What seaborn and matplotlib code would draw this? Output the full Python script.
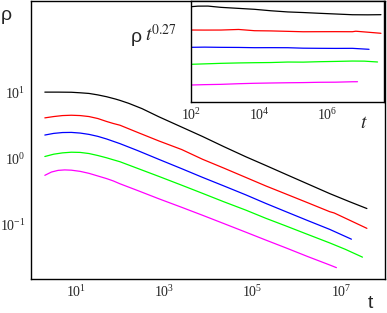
import numpy as np
import pandas as pd
import matplotlib
matplotlib.use("Agg")
import matplotlib.pyplot as plt
import seaborn as sns

# ---- data (log10 t, log10 rho) ----
logt_black = [0.3, 0.6, 0.9, 1.1, 1.3, 1.5, 1.7, 1.9, 2.0, 2.2, 2.5, 2.88, 3.4, 3.87, 4.35, 4.85, 5.3, 5.77, 6.25, 6.75, 7.2, 7.59]
logr_black = [1.01, 1.01, 1.008, 1.0, 0.99, 0.968, 0.94, 0.905, 0.885, 0.84, 0.76, 0.637, 0.48, 0.338, 0.185, 0.031, -0.10, -0.239, -0.38, -0.527, -0.65, -0.753]

logt_red = [0.3, 0.5, 0.7, 0.9, 1.1, 1.3, 1.5, 1.7, 1.85, 2.0, 2.4, 2.88, 3.4, 3.87, 4.35, 4.85, 5.3, 5.77, 6.25, 6.75, 6.85, 7.2, 7.59]
logr_red = [0.62, 0.64, 0.655, 0.66, 0.655, 0.64, 0.61, 0.565, 0.535, 0.509, 0.40, 0.271, 0.14, -0.007, -0.14, -0.282, -0.41, -0.536, -0.665, -0.801, -0.82, -0.93, -1.053]

logt_blue = [0.3, 0.5, 0.7, 0.9, 1.1, 1.3, 1.5, 1.7, 1.85, 2.0, 2.4, 2.88, 3.4, 3.87, 4.35, 4.85, 5.3, 5.77, 6.25, 6.75, 7.24]
logr_blue = [0.36, 0.385, 0.398, 0.40, 0.39, 0.37, 0.34, 0.30, 0.265, 0.23, 0.125, -0.008, -0.15, -0.281, -0.41, -0.546, -0.675, -0.804, -0.935, -1.069, -1.217]

logt_green = [0.3, 0.5, 0.7, 0.9, 1.1, 1.3, 1.5, 1.7, 1.85, 2.0, 2.4, 2.88, 3.4, 3.87, 4.35, 4.85, 5.3, 5.77, 6.25, 6.75, 7.1, 7.49]
logr_green = [0.035, 0.07, 0.09, 0.10, 0.097, 0.08, 0.05, 0.015, -0.015, -0.044, -0.145, -0.266, -0.40, -0.523, -0.65, -0.777, -0.90, -1.020, -1.145, -1.274, -1.37, -1.489]

logt_magenta = [0.3, 0.45, 0.6, 0.75, 0.9, 1.1, 1.3, 1.5, 1.7, 1.85, 2.0, 2.4, 2.88, 3.4, 3.87, 4.35, 4.85, 5.3, 5.77, 6.25, 6.75, 6.90]
logr_magenta = [-0.25, -0.20, -0.175, -0.168, -0.172, -0.19, -0.22, -0.26, -0.30, -0.335, -0.378, -0.48, -0.605, -0.735, -0.855, -0.98, -1.111, -1.23, -1.352, -1.48, -1.608, -1.648]

series = ["black", "red", "blue", "green", "magenta"]
colors = ["#000000", "#ff0000", "#0000ff", "#00ff00", "#ff00ff"]
exponent = 0.27

logts = [logt_black, logt_red, logt_blue, logt_green, logt_magenta]
logrs = [logr_black, logr_red, logr_blue, logr_green, logr_magenta]

frames = []
for name, lt, lr in zip(series, logts, logrs):
    t = 10 ** np.array(lt)
    rho = 10 ** np.array(lr)
    frames.append(pd.DataFrame({"t": t, "rho": rho, "scaled": rho * t ** exponent, "s": name}))
df = pd.concat(frames, ignore_index=True)
palette = dict(zip(series, colors))

sns.set_style("white")
plt.rcParams["font.family"] = ["Liberation Serif", "DejaVu Serif"]
plt.rcParams["mathtext.fontset"] = "stix"
plt.rcParams["mathtext.default"] = "regular"

fig = plt.figure(figsize=(3.87, 3.13), dpi=100)
ax = fig.add_axes([31 / 387, 1 - 279 / 313, 354 / 387, 278 / 313])

sns.lineplot(data=df, x="t", y="rho", hue="s", palette=palette, ax=ax,
             estimator=None, sort=False, legend=False, linewidth=0.9)
ax.set_xscale("log")
ax.set_yscale("log")
ax.set_xlim(0.97, 1.0e8)
ax.set_ylim(10 ** -1.82, 10 ** 2.39)
ax.set_xlabel("")
ax.set_ylabel("")

xt = [1e1, 1e2, 1e3, 1e4, 1e5, 1e6, 1e7]
xl = [r"$10^{1}$", "", r"$10^{3}$", "", r"$10^{5}$", "", r"$10^{7}$"]
yt = [1e-1, 1e0, 1e1, 1e2]
yl = [r"$10^{-1}$", r"$10^{0}$", r"$10^{1}$", ""]
ax.set_xticks(xt)
ax.set_xticklabels(xl)
ax.set_yticks(yt)
ax.set_yticklabels(yl)
ax.minorticks_off()
ax.tick_params(direction="in", length=6.5, width=0.8, labelsize=10, pad=4,
               top=False, right=False)
for sp in ax.spines.values():
    sp.set_linewidth(1.0)
    sp.set_color("black")

fig.text(1 / 387, 1 - 16 / 313, "ρ", family="Liberation Sans", fontsize=14, va="center", ha="left")
fig.text(370 / 387, 1 - 303 / 313, "t", family="Liberation Sans", fontsize=14, va="center", ha="center")

# inset
axi = fig.add_axes([191 / 387, 1 - 102 / 313, 193 / 387, 101 / 313])
sns.lineplot(data=df, x="t", y="scaled", hue="s", palette=palette, ax=axi,
             estimator=None, sort=False, legend=False, linewidth=0.9)
axi.set_xscale("log")
axi.set_yscale("log")
axi.set_xlim(100, 10 ** 7.68)
axi.set_ylim(10 ** -0.112, 10 ** 1.517)
axi.set_xlabel("")
axi.set_ylabel("")
axi.set_xticks([1e2, 1e3, 1e4, 1e5, 1e6, 1e7])
axi.set_xticklabels([r"$10^{2}$", "", r"$10^{4}$", "", r"$10^{6}$", ""])
axi.set_yticks([])
axi.minorticks_off()
axi.tick_params(axis="x", direction="in", length=5, width=0.8, labelsize=10, pad=4)
for sp in axi.spines.values():
    sp.set_linewidth(1.0)
    sp.set_color("black")

fig.text(131 / 387, 1 - 37 / 313, "ρ", family="Liberation Sans", fontsize=14, va="center", ha="left")
fig.text(145 / 387, 1 - 34 / 313, r"$\mathit{t}^{\mathit{0.27}}$", fontsize=14, va="center", ha="left")
fig.text(364 / 387, 1 - 124 / 313, r"$\mathit{t}$", fontsize=14, va="center", ha="center")

fig.savefig("out.png", dpi=100)
